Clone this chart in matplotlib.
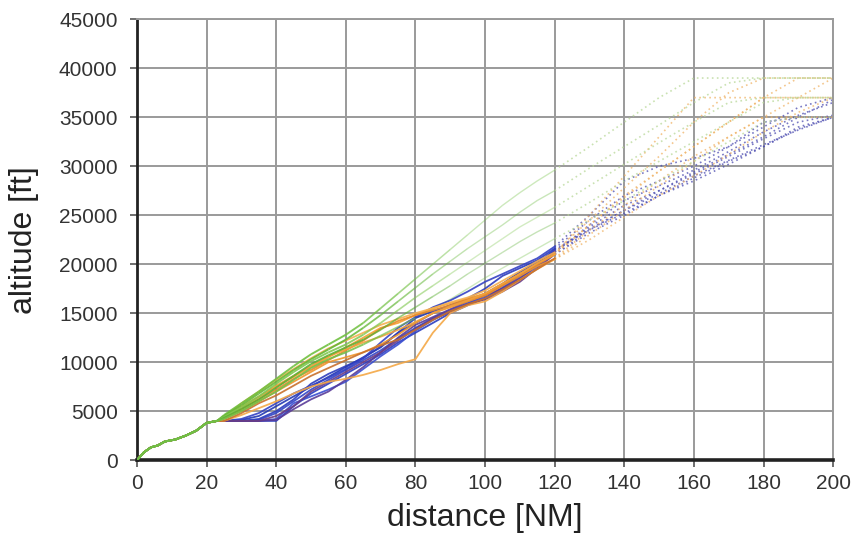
import matplotlib
matplotlib.use("Agg")
import matplotlib.pyplot as plt
import numpy as np

plt.rcParams['font.family'] = ['Liberation Sans', 'DejaVu Sans']

# Common initial climb shared by all departures
START_D = [0, 2, 4, 6, 8, 11, 14, 17, 20, 23]
START_ALT = [0, 800, 1300, 1500, 1900, 2100, 2500, 3000, 3800, 4000]

# Radar-tracked (solid) part of each climb, distance in NM
SOLID_D = [25, 30, 35, 40, 45, 50, 55, 60, 65, 70, 75, 80, 85, 90, 95, 100, 105, 110, 115, 120]
# Extrapolated (dotted) part up to cruise level
DOTTED_D = [120, 130, 140, 150, 160, 170, 180, 190, 200]

# Blue group
B1 = [4000, 4000, 4000, 4000, 5500, 6800, 7800, 8800, 9800, 10800, 12000, 13000, 14000, 15000, 15800, 16500, 17600, 18800, 20000, 21500]
B2 = [4000, 4000, 4100, 4800, 6000, 7200, 8200, 9200, 10200, 11200, 12400, 13500, 14500, 15300, 16000, 16800, 17800, 19000, 20200, 21300]
B3 = [4000, 4100, 4500, 5500, 6500, 7500, 8500, 9500, 10500, 11500, 13000, 14500, 15200, 15800, 16300, 17000, 18000, 19200, 20300, 21000]
B4 = [4000, 4000, 4000, 4200, 5800, 6500, 7200, 8000, 9300, 10600, 11800, 13200, 14300, 15200, 16000, 16600, 17400, 18500, 19800, 21200]
B5 = [4000, 4000, 4200, 5000, 6200, 7800, 8800, 9600, 10400, 11600, 13000, 14000, 15000, 15800, 16500, 17500, 18800, 19600, 20400, 21600]
B6 = [4000, 4000, 4000, 4100, 5200, 6200, 7000, 8200, 9500, 11000, 12500, 13800, 14600, 15400, 16200, 16800, 17500, 18600, 19900, 21300]
B7 = [4000, 4200, 4800, 5800, 6800, 7600, 8400, 9300, 10400, 12000, 13500, 14600, 15600, 16300, 17200, 18200, 19000, 19800, 20600, 21800]
B8 = [4000, 4000, 4000, 4500, 5500, 7000, 8000, 9000, 10000, 11000, 12200, 13400, 14400, 15100, 15900, 16400, 17200, 18200, 19600, 21000]

B1_EXT = [21500, 23500, 25500, 27200, 29000, 30600, 32200, 33700, 35000]
B2_EXT = [21300, 23800, 26000, 27500, 29200, 31000, 32800, 34500, 35200]
B3_EXT = [21000, 23200, 25000, 27000, 28800, 30500, 32000, 33800, 35000]
B4_EXT = [21200, 24000, 26500, 28000, 29600, 31500, 33500, 35200, 36500]
B5_EXT = [21600, 24500, 27000, 28500, 30000, 32000, 34000, 36000, 37000]
B6_EXT = [21300, 23600, 25500, 27500, 29400, 31200, 33000, 35000, 36800]
B7_EXT = [21800, 25000, 28500, 30000, 30800, 32000, 34500, 35000, 35000]
B8_EXT = [21000, 23500, 25200, 27000, 28500, 30200, 32000, 34000, 35000]

# Orange group
O1 = [4500, 5500, 6500, 7500, 8500, 9500, 10500, 11500, 12500, 13500, 14000, 14800, 15500, 16000, 16500, 17000, 18000, 19000, 20000, 21000]
O2 = [4200, 5000, 6000, 7000, 8000, 9000, 10000, 10500, 11000, 11800, 12800, 14000, 15000, 15600, 16200, 16800, 17800, 18800, 19800, 20500]
O3 = [4000, 4600, 5300, 6000, 6800, 7500, 8000, 8300, 8700, 9200, 9800, 10300, 13000, 15000, 15800, 16200, 17200, 18400, 19500, 20500]
O4 = [4300, 5200, 6200, 7200, 8300, 9200, 10200, 11200, 12200, 13400, 14200, 14800, 15300, 15800, 16400, 16900, 17900, 19000, 20000, 21000]
O5 = [4400, 5800, 7000, 8200, 9300, 10400, 11400, 12200, 13000, 13800, 14400, 15000, 15500, 16100, 16600, 17300, 18300, 19300, 20300, 21200]
O6 = [4000, 4800, 5800, 6600, 7600, 8600, 9400, 10200, 11000, 11700, 12300, 13300, 14300, 15200, 15900, 16500, 17400, 18400, 19500, 20600]
O7 = [4200, 5300, 6400, 7600, 8600, 9600, 10600, 11300, 12000, 12600, 13300, 14100, 15000, 15700, 16300, 17000, 18000, 19000, 20100, 21000]

O1_EXT = [21000, 24000, 27000, 29500, 32000, 34500, 37000, 37000, 37000]
O2_EXT = [20500, 23000, 25500, 28000, 30500, 33000, 35000, 35000, 35000]
O3_EXT = [20500, 22500, 24800, 27000, 29000, 31200, 33500, 35500, 37000]
O4_EXT = [21000, 25000, 29000, 33000, 37000, 37000, 37000, 37000, 37000]
O5_EXT = [21200, 24500, 27800, 31000, 34500, 37500, 39000, 39000, 39000]
O6_EXT = [20600, 23500, 26000, 28500, 31000, 33000, 35000, 37000, 39000]
O7_EXT = [21000, 24000, 26800, 29500, 32000, 34500, 37000, 39000, 39000]

# Green group
G1 = [4600, 5800, 7000, 8300, 9600, 10800, 11800, 12800, 14000, 15500, 17000, 18500, 20000, 21500, 23000, 24500, 26000, 27300, 28500, 29600]
G2 = [4500, 5600, 6800, 8000, 9200, 10300, 11300, 12300, 13500, 14800, 16200, 17600, 19000, 20300, 21600, 22800, 24000, 25300, 26500, 27500]
G3 = [4400, 5400, 6500, 7800, 9000, 10100, 11000, 11800, 12800, 14000, 15300, 16600, 17800, 19000, 20200, 21400, 22600, 23800, 24800, 25800]
G4 = [4300, 5200, 6200, 7400, 8600, 9800, 10700, 11500, 12300, 13300, 14500, 15600, 16700, 17800, 19000, 20100, 21200, 22300, 23300, 24200]
G5 = [4200, 5000, 6000, 7000, 8200, 9400, 10300, 11000, 11800, 12700, 13600, 14500, 15400, 16400, 17500, 18600, 19600, 20600, 21600, 22600]

G1_EXT = [29600, 32000, 34500, 37000, 39000, 39000, 39000, 39000, 39000]
G2_EXT = [27500, 29800, 32000, 34200, 36500, 38500, 39000, 39000, 39000]
G3_EXT = [25800, 28000, 30200, 32400, 34500, 36500, 37000, 37000, 37000]
G4_EXT = [24200, 26300, 28500, 30500, 32500, 34500, 36500, 37000, 37000]
G5_EXT = [22600, 24500, 26500, 28500, 30500, 32500, 34500, 35000, 35000]

X_TICKS = [0, 20, 40, 60, 80, 100, 120, 140, 160, 180, 200]
Y_TICKS = [0, 5000, 10000, 15000, 20000, 25000, 30000, 35000, 40000, 45000]

# (solid tracks, extrapolations, line colours, dotted colour, fade-out range)
groups = [
    ([B1, B2, B3, B4, B5, B6, B7, B8],
     [B1_EXT, B2_EXT, B3_EXT, B4_EXT, B5_EXT, B6_EXT, B7_EXT, B8_EXT],
     ['#2a3cc0', '#3246c8', '#2238b4', '#3a4ed0', '#2c3cbc', '#5a3c98', '#3442c4', '#6a3c84'],
     '#4c4cb0', None),
    ([O1, O2, O3, O4, O5, O6, O7],
     [O1_EXT, O2_EXT, O3_EXT, O4_EXT, O5_EXT, O6_EXT, O7_EXT],
     ['#f5a030', '#f0962a', '#f4a846', '#e88a2a', '#f6b050', '#c8702c', '#f2a23c'],
     '#f0b468', None),
    ([G1, G2, G3, G4, G5],
     [G1_EXT, G2_EXT, G3_EXT, G4_EXT, G5_EXT],
     ['#70c040', '#64b838', '#80c850', '#5cb034', '#74c048'],
     '#b8d898', (60, 95)),
]

fig = plt.figure(figsize=(8.51, 5.35), dpi=100)
ax = fig.add_axes([0.161, 0.140, 0.818, 0.824])

for solids, exts, colors, ext_color, fade in groups:
    for alt, ext, col in zip(solids, exts, colors):
        d = np.array(START_D + SOLID_D)
        a = np.array(START_ALT + alt)
        if fade is None:
            ax.plot(d, a, color=col, lw=1.3, alpha=0.9, zorder=3)
        else:
            # gradually lighten each segment past the start of the fade range
            f0, f1 = fade
            for i in range(len(d) - 1):
                mid = 0.5 * (d[i] + d[i + 1])
                t = np.clip((mid - f0) / (f1 - f0), 0, 1)
                ax.plot(d[i:i + 2], a[i:i + 2], color=col, lw=1.4 - 0.4 * t,
                        alpha=0.9 - 0.55 * t, zorder=4 - 2 * t,
                        solid_capstyle='butt')
        ax.plot(DOTTED_D, ext, color=ext_color, lw=1.2, ls=(0, (1, 2)), alpha=0.75, zorder=2)

ax.set_xlim(0, 200)
ax.set_ylim(0, 45000)
ax.set_xticks(X_TICKS)
ax.set_yticks(Y_TICKS)
ax.grid(True, color='#9a9a9a', lw=1.4, zorder=0)
ax.set_axisbelow(True)

for side in ['top', 'right']:
    ax.spines[side].set_color('#9a9a9a')
    ax.spines[side].set_linewidth(1.4)
ax.spines['left'].set_color('#222222')
ax.spines['left'].set_linewidth(2.0)
ax.spines['bottom'].set_color('#222222')
ax.spines['bottom'].set_linewidth(2.6)

ax.tick_params(axis='both', direction='out', length=5, width=1.2, color='#555555',
               labelsize=15, labelcolor='#333333')
ax.tick_params(axis='y', pad=9)
ax.tick_params(axis='x', pad=5)

ax.set_xlabel('distance [NM]', fontsize=23, color='#222222', labelpad=7)
ax.set_ylabel('altitude [ft]', fontsize=23, color='#222222', labelpad=14)

fig.savefig('out.png', dpi=100)
